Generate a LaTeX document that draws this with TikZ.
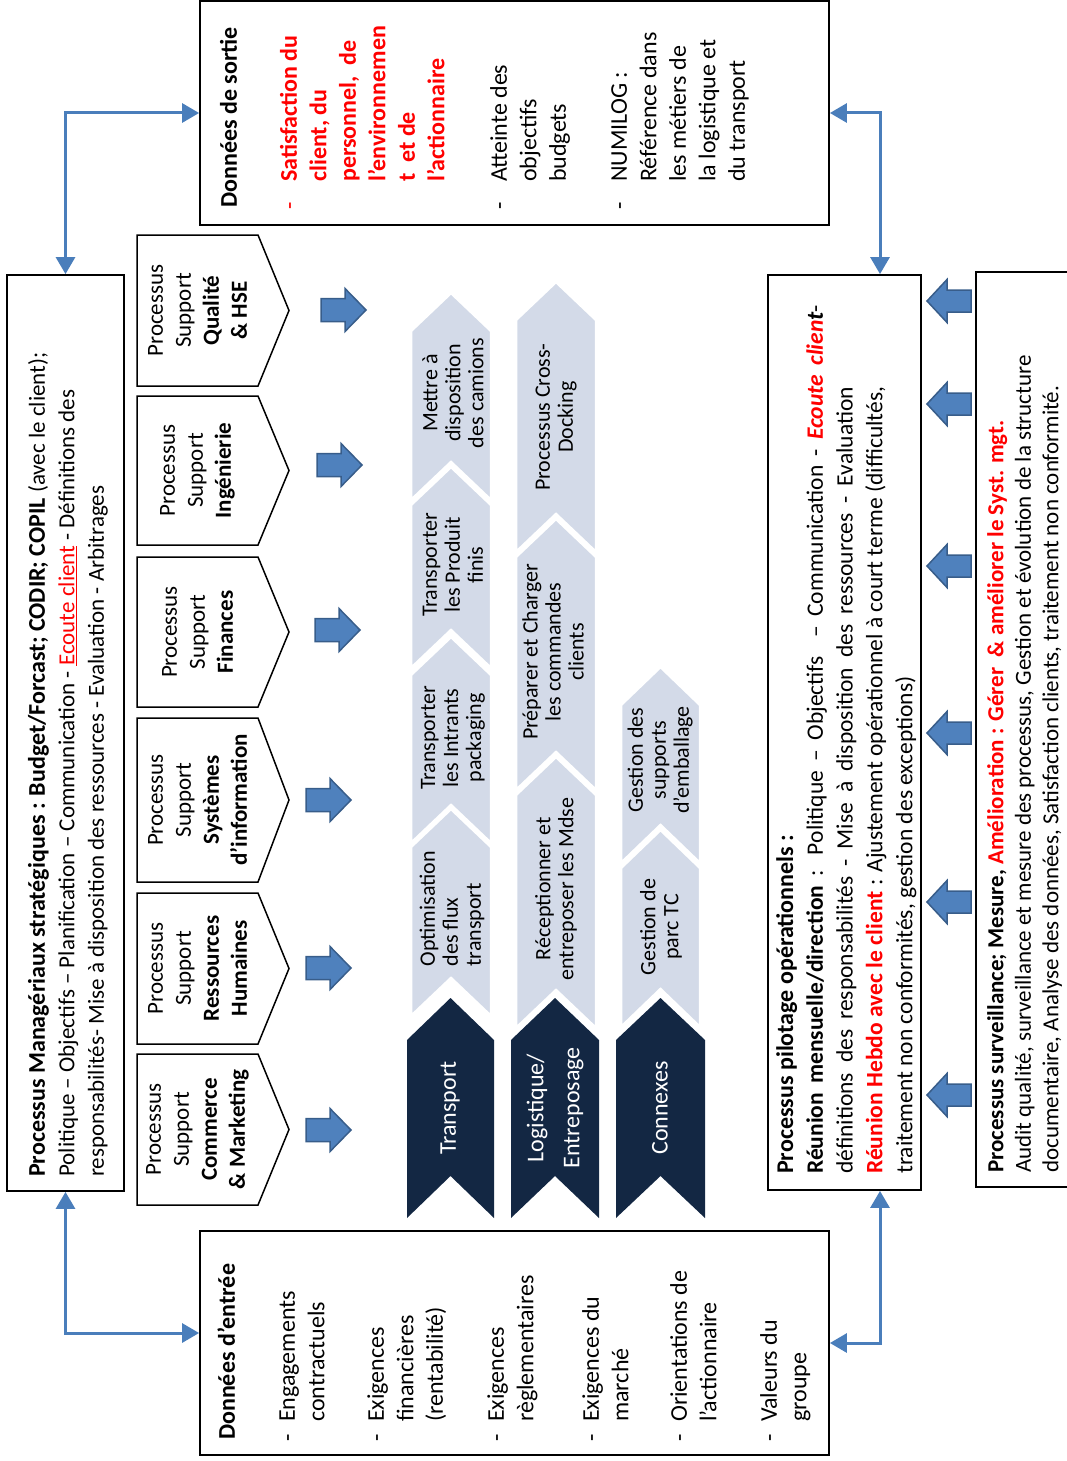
\documentclass[tikz,border=0pt]{standalone}
\usepackage{fontspec}
\setmainfont{Carlito}
\usetikzlibrary{arrows.meta}

\definecolor{linkblue}{RGB}{74,126,187}
\definecolor{blockfill}{RGB}{79,129,189}
\definecolor{blockedge}{RGB}{56,93,138}
\definecolor{navyfill}{RGB}{19,39,67}
\definecolor{palefill}{RGB}{211,218,232}

% right-pointing block arrow: left end x, centre y
\newcommand{\rblock}[2]{%
  \draw[blockarrow] (#1,#2-11.5) -- (#1+24,#2-11.5) -- (#1+24,#2-21.5) -- (#1+45,#2)
    -- (#1+24,#2+21.5) -- (#1+24,#2+11.5) -- (#1,#2+11.5) -- cycle;}
% left-pointing block arrow: tip x, centre y
\newcommand{\lblock}[2]{%
  \draw[blockarrow] (#1,#2) -- (#1+20,#2-21.5) -- (#1+20,#2-11) -- (#1+44,#2-11)
    -- (#1+44,#2+11) -- (#1+20,#2+11) -- (#1+20,#2+21.5) -- cycle;}
% support process pentagon: top y, bottom y
\newcommand{\supchev}[2]{%
  \draw[supshape] (137,#1) -- (258,#1) -- (289,{(#1+#2)/2}) -- (258,#2) -- (137,#2) -- cycle;}
% dark family chevron: left x, right x
\newcommand{\darkchev}[2]{%
  \fill[navyfill] (#1,1218) -- (#1,1040) -- ({(#1+#2)/2},998) -- (#2,1040)
    -- (#2,1218) -- ({(#1+#2)/2},1176) -- cycle;}
% pale activity chevron: left x, right x, tip y, bottom y
\newcommand{\palechev}[4]{%
  \draw[paleshape] (#1,#4) -- (#1,#3+38) -- ({(#1+#2)/2},#3) -- (#2,#3+38)
    -- (#2,#4) -- ({(#1+#2)/2},#4-38) -- cycle;}

\tikzset{
  frame/.style={draw=black, line width=1.8pt, fill=white, inner sep=0pt},
  vtxt/.style={rotate=90, inner sep=0pt, anchor=north west, align=left},
  bodyfont/.style={font=\fontsize{23}{29.5}\selectfont},
  datafont/.style={font=\fontsize{24}{29.5}\selectfont},
  supfont/.style={font=\fontsize{23}{28}\selectfont},
  palefont/.style={font=\fontsize{22}{23}\selectfont},
  blockarrow/.style={fill=blockfill, draw=blockedge, line width=1.5pt, line join=miter},
  supshape/.style={draw=black, fill=white, line width=1.5pt, line join=miter},
  paleshape/.style={fill=palefill, draw=white, line width=2.5pt, line join=miter},
  link/.style={draw=linkblue, line width=3pt, >={Triangle[length=17pt,width=19pt]}, <->},
}

\begin{document}
\begin{tikzpicture}[x=1pt, y=-1pt]
\useasboundingbox (0,0) rectangle (1067,1461);

% ---------- frames ----------
\node[frame, minimum width=117pt, minimum height=916pt] (mgmt) at (65.5,733) {};
\node[frame, minimum width=629pt, minimum height=224pt] (sortie) at (514.5,113) {};
\node[frame, minimum width=629pt, minimum height=224pt] (entree) at (514.5,1343) {};
\node[frame, minimum width=153pt, minimum height=915pt] (pilot) at (844.5,732.5) {};
\node[frame, minimum width=94pt, minimum height=915pt] (surv) at (1023,729.5) {};

% ---------- connectors ----------
\draw[link] (mgmt.north) |- (sortie.west);
\draw[link] (mgmt.south) |- ([yshift=10pt]entree.west);
\draw[link] (sortie.east) -| ([xshift=35.5pt]pilot.north);
\draw[link] ([xshift=35.5pt]pilot.south) |- (entree.east);

% ---------- strategic management ----------
\node[vtxt, bodyfont] (mgmt-t) at (24,1177) {\strut{\fontsize{24}{29.5}\selectfont\textbf{Processus Managériaux stratégiques : Budget/Forcast; CODIR; COPIL}} (avec le client);\\
Politique – Objectifs – Planification – Communication - \textcolor{red}{\underline{Ecoute client}} - Définitions des\\
responsabilités- Mise à disposition des ressources - Evaluation - Arbitrages};

% ---------- output data ----------
\node[vtxt, datafont] (sortie-h) at (216,208) {\strut\textbf{Données de sortie}};
\node[vtxt, datafont] (sortie-d1) at (276,210) {\strut\textcolor{red}{-}};
\node[vtxt, datafont] (sortie-i1) at (276,182) {\strut\textcolor{red}{\textbf{Satisfaction du}}\\
\textcolor{red}{\textbf{client, du}}\\
\textcolor{red}{\textbf{personnel,\ \ de}}\\
\textcolor{red}{\textbf{l’environnemen}}\\
\textcolor{red}{\textbf{t\ \ et de}}\\
\textcolor{red}{\textbf{l’actionnaire}}};
\node[vtxt, datafont] (sortie-d2) at (486,210) {\strut-};
\node[vtxt, datafont] (sortie-i2) at (486,182) {\strut Atteinte des\\objectifs\\budgets};
\node[vtxt, datafont] (sortie-d3) at (606,210) {\strut-};
\node[vtxt, datafont] (sortie-i3) at (606,182) {\strut NUMILOG :\\Référence dans\\les métiers de\\la logistique et\\du transport};

% ---------- input data ----------
\node[vtxt, datafont] (entree-h) at (214,1440) {\strut\textbf{Données d’entrée}};
\foreach \xl/\lab [count=\k] in {274/{Engagements\\contractuels},
    363/{Exigences\\financières\\(rentabilité)},
    483/{Exigences\\règlementaires},
    578/{Exigences du\\marché},
    666/{Orientations de\\l’actionnaire},
    756/{Valeurs du\\groupe}}{
  \node[vtxt, datafont] (entree-d\k) at (\xl,1442) {\strut-};
  \node[vtxt, datafont] (entree-i\k) at (\xl,1422) {\strut\lab};
}

% ---------- support processes ----------
\supchev{235}{386}
\supchev{396}{545}
\supchev{557}{707}
\supchev{718}{882}
\supchev{893}{1044}
\supchev{1054}{1205}
\node[rotate=90, align=center, supfont] (sup-q) at (197.5,310.5) {Processus\\Support\\\textbf{Qualité}\\\textbf{\& HSE}};
\node[rotate=90, align=center, supfont] (sup-i) at (197.5,470.5) {Processus\\Support\\\textbf{Ingénierie}};
\node[rotate=90, align=center, supfont] (sup-f) at (197.5,632) {Processus\\Support\\\textbf{Finances}};
\node[rotate=90, align=center, supfont] (sup-s) at (197.5,800) {Processus\\Support\\\textbf{Systèmes}\\\textbf{d’information}};
\node[rotate=90, align=center, supfont] (sup-r) at (197.5,968.5) {Processus\\Support\\\textbf{Ressources}\\\textbf{Humaines}};
\node[rotate=90, align=center, supfont] (sup-c) at (197.5,1129.5) {Processus\\Support\\\textbf{Commerce}\\\textbf{\& Marketing}};

\rblock{321}{310}
\rblock{317}{465}
\rblock{315}{630}
\rblock{306}{800}
\rblock{306}{968}
\rblock{306}{1130}

% ---------- operational chains ----------
\palechev{411}{491}{293}{500}
\palechev{411}{491}{467}{668}
\palechev{411}{491}{637}{843}
\palechev{411}{491}{809}{1016}
\palechev{516}{596}{282}{552}
\palechev{516}{596}{519}{790}
\palechev{516}{596}{757}{1028}
\palechev{621}{700}{667}{863}
\palechev{621}{700}{830}{1027}

\darkchev{407}{494}
\darkchev{511}{599}
\darkchev{616}{705}

\node[rotate=90, align=center, palefont] (t-camions) at (453,393) {Mettre à\\disposition\\des camions};
\node[rotate=90, align=center, palefont] (t-finis) at (453,565) {Transporter\\les Produit\\finis};
\node[rotate=90, align=center, palefont] (t-intrants) at (453,738) {Transporter\\les Intrants\\packaging};
\node[rotate=90, align=left, anchor=west, palefont] (t-optim) at (452,970) {Optimisation\\des flux\\transport};
\node[rotate=90, align=center, palefont] (t-cross) at (556,417) {Processus Cross-\\Docking};
\node[rotate=90, align=center, palefont] (t-prep) at (553,652) {Préparer et Charger\\les commandes\\clients};
\node[rotate=90, align=center, palefont] (t-recep) at (556,889) {Réceptionner et\\entreposer les Mdse};
\node[rotate=90, align=center, palefont] (t-emb) at (660,760) {Gestion des\\supports\\d’emballage};
\node[rotate=90, align=center, palefont] (t-parc) at (661,927) {Gestion de\\parc TC};

\node[rotate=90, align=center, text=white, font=\fontsize{24}{36}\selectfont] (f-trans) at (450,1108) {Transport};
\node[rotate=90, align=center, text=white, font=\fontsize{24}{36}\selectfont] (f-log) at (555,1108) {Logistique/\\Entreposage};
\node[rotate=90, align=center, text=white, font=\fontsize{24}{36}\selectfont] (f-conn) at (660,1108) {Connexes};

% ---------- operational steering ----------
\node[vtxt, font=\fontsize{23.5}{29.8}\selectfont] (pilot-t) at (772,1174) {\strut{\fontsize{24}{29.8}\selectfont\textbf{Processus pilotage opérationnels :}}\\
\makebox[869pt][s]{\textbf{Réunion mensuelle/direction} : Politique – Objectifs\ \ – Communication - \textcolor{red}{\textbf{\textit{Ecoute clien}}}\textbf{\textit{t}}-}\\
\makebox[787pt][s]{définitions des responsabilités - Mise à disposition des ressources - Evaluation}\\
\makebox[787pt][s]{\textcolor{red}{\textbf{Réunion Hebdo avec le client}} : Ajustement opérationnel à court terme (difficultés,}\\
traitement non conformités, gestion des exceptions)};

\lblock{927}{301}
\lblock{927}{404}
\lblock{927}{566}
\lblock{927}{733}
\lblock{927}{902}
\lblock{927}{1095}

% ---------- monitoring ----------
\node[vtxt, font=\fontsize{23}{27.5}\selectfont] (surv-t) at (984,1173) {\strut\textbf{Processus surveillance; Mesure, }\textcolor{red}{\textbf{Amélioration : Gérer\ \ \& améliorer le Syst. mgt.}}\\
Audit qualité, surveillance et mesure des processus, Gestion et évolution de la structure\\
documentaire, Analyse des données, Satisfaction clients, traitement non conformité.};

\end{tikzpicture}
\end{document}
